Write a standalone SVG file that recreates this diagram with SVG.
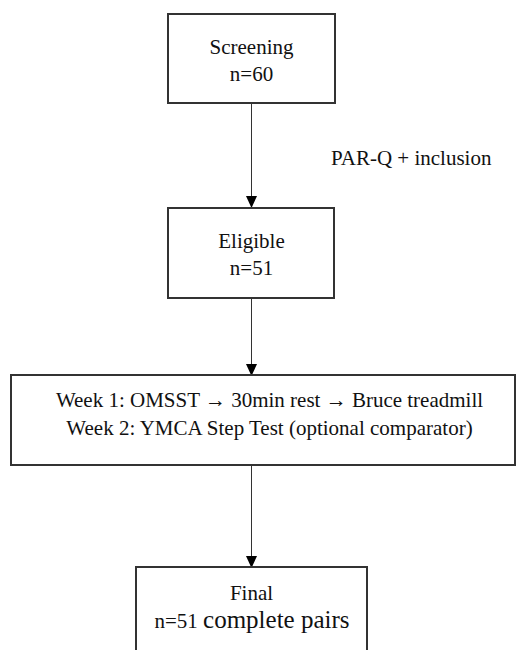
<svg xmlns="http://www.w3.org/2000/svg" width="525" height="650" viewBox="0 0 525 650">
<defs>
<marker id="ah" markerWidth="12" markerHeight="13" refX="12" refY="6" orient="auto" markerUnits="userSpaceOnUse" viewBox="0 0 13 12">
<path d="M0,0 L13,6 L0,12 Z" fill="#000"/>
</marker>
</defs>
<style>
.box{fill:#fff;stroke:#333;stroke-width:2}
.t{font-family:'Liberation Serif','Times New Roman',serif;font-size:21px;fill:#111;text-anchor:middle}
.lbl{font-family:'Liberation Serif','Times New Roman',serif;font-size:21px;fill:#111}
.c{stroke:#333;stroke-width:1;fill:none;marker-end:url(#ah)}
</style>
<rect width="525" height="650" fill="#fff"/>
<g id="connectors">
<line class="c" x1="251.5" y1="103" x2="251.5" y2="207"/>
<line class="c" x1="251.5" y1="298" x2="251.5" y2="375"/>
<line class="c" x1="251.5" y1="465" x2="251.5" y2="567"/>
<text class="lbl" x="331" y="165">PAR-Q + inclusion</text>
</g>
<g id="screening">
<rect class="box" x="168" y="14" width="167" height="89"/>
<text class="t" x="251.5" y="54">Screening</text>
<text class="t" x="251.5" y="81">n=60</text>
</g>
<g id="eligible">
<rect class="box" x="168" y="208" width="166" height="90"/>
<text class="t" x="251.5" y="248">Eligible</text>
<text class="t" x="251.5" y="275">n=51</text>
</g>
<g id="protocol">
<rect class="box" x="11" y="375" width="504" height="90"/>
<text class="t" x="269.5" y="407">Week 1: OMSST → 30min rest → Bruce treadmill</text>
<text class="t" x="269.5" y="435">Week 2: YMCA Step Test (optional comparator)</text>
</g>
<g id="final">
<rect class="box" x="136" y="567" width="231" height="100"/>
<text class="t" x="251.5" y="600">Final</text>
<text class="t" x="252" y="628">n=51 <tspan font-size="25">complete pairs</tspan></text>
</g>
</svg>
